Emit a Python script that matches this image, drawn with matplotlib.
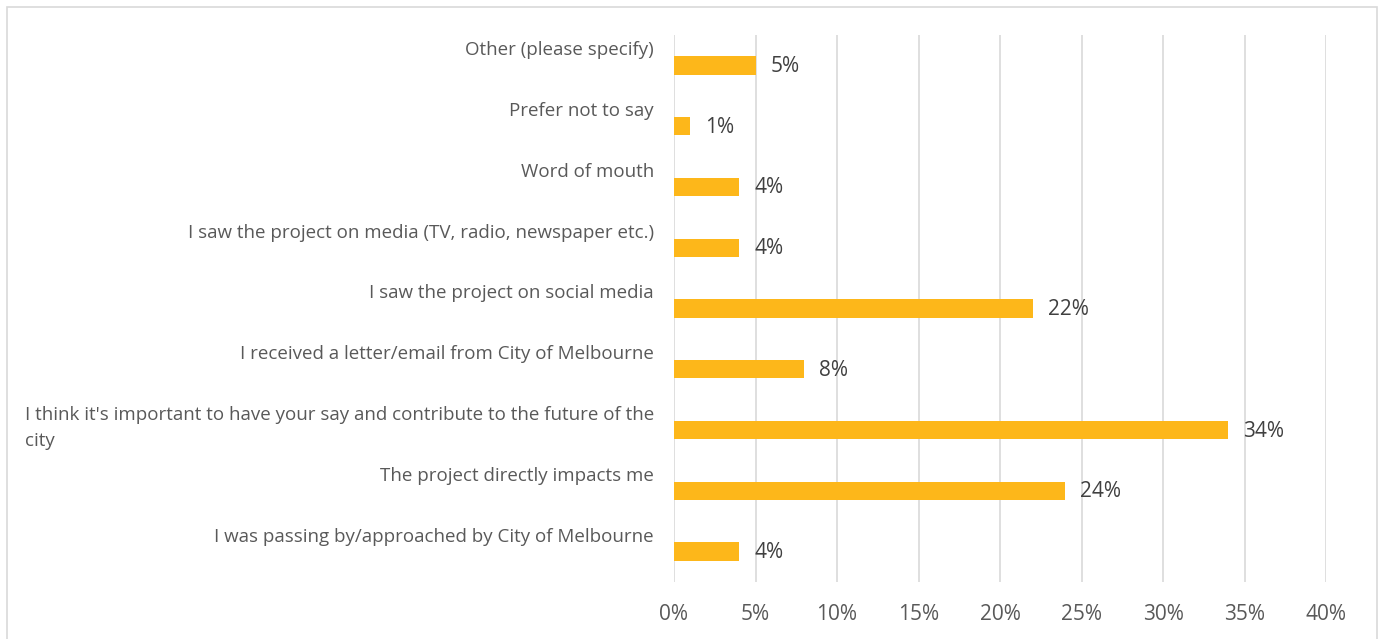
import matplotlib
matplotlib.use("Agg")
import matplotlib.pyplot as plt
import matplotlib.transforms as mtrans
from matplotlib.patches import Rectangle

categories = [
    "Other (please specify)",
    "Prefer not to say",
    "Word of mouth",
    "I saw the project on media (TV, radio, newspaper etc.)",
    "I saw the project on social media",
    "I received a letter/email from City of Melbourne",
    "I think it's important to have your say and contribute to the future of the\ncity",
    "The project directly impacts me",
    "I was passing by/approached by City of Melbourne",
]
values = [0.05, 0.01, 0.04, 0.04, 0.22, 0.08, 0.34, 0.24, 0.04]
value_labels = ["5%", "1%", "4%", "4%", "22%", "8%", "34%", "24%", "4%"]
xticks = [0, 0.05, 0.10, 0.15, 0.20, 0.25, 0.30, 0.35, 0.40]
xtick_labels = ["0%", "5%", "10%", "15%", "20%", "25%", "30%", "35%", "40%"]

TEXT = "#595959"
VALUE_TEXT = "#404040"
BAR = "#FDB71A"
GRID = "#D9D9D9"
FONT = ["Open Sans", "DejaVu Sans"]

W, H = 1380, 639
fig = plt.figure(figsize=(W / 100, H / 100), dpi=100)
fig.patch.set_facecolor("white")
fig.add_artist(Rectangle((6.5 / W, -5 / H), (1377 - 6.5) / W, (H - 6.5 + 5) / H,
                         transform=fig.transFigure, fill=False,
                         edgecolor="#D9D9D9", linewidth=1.2))

left, right, top, bottom = 674, 1326, 35, 582
ax = fig.add_axes([left / W, 1 - bottom / H, (right - left) / W, (bottom - top) / H])

n = len(categories)
ypos = list(range(n))
ax.barh(ypos, values, height=0.3, color=BAR, zorder=3)
ax.set_ylim(n - 0.5, -0.5)
ax.set_xlim(0, 0.40)
ax.set_xticks(xticks)
ax.set_xticklabels(xtick_labels, fontsize=15, color=TEXT, family=FONT)
ax.tick_params(axis="x", length=0, pad=16)
ax.set_yticks([])
ax.grid(axis="x", color=GRID, linewidth=1.2, zorder=0)
for s in ax.spines.values():
    s.set_visible(False)

lab_tr = mtrans.offset_copy(ax.get_yaxis_transform(), fig=fig, x=-20, y=24, units="dots")
for y, cat in zip(ypos, categories):
    ax.text(0, y, cat, transform=lab_tr, ha="right", va="top", fontsize=13.5,
            color=TEXT, family=FONT, linespacing=1.55,
            multialignment="left")

for y, v, lab in zip(ypos, values, value_labels):
    ax.annotate(lab, (v, y), xytext=(15, -1), textcoords="offset pixels",
                ha="left", va="center", fontsize=15, color=VALUE_TEXT, family=FONT)

fig.savefig("out.png", dpi=100, facecolor="white")
